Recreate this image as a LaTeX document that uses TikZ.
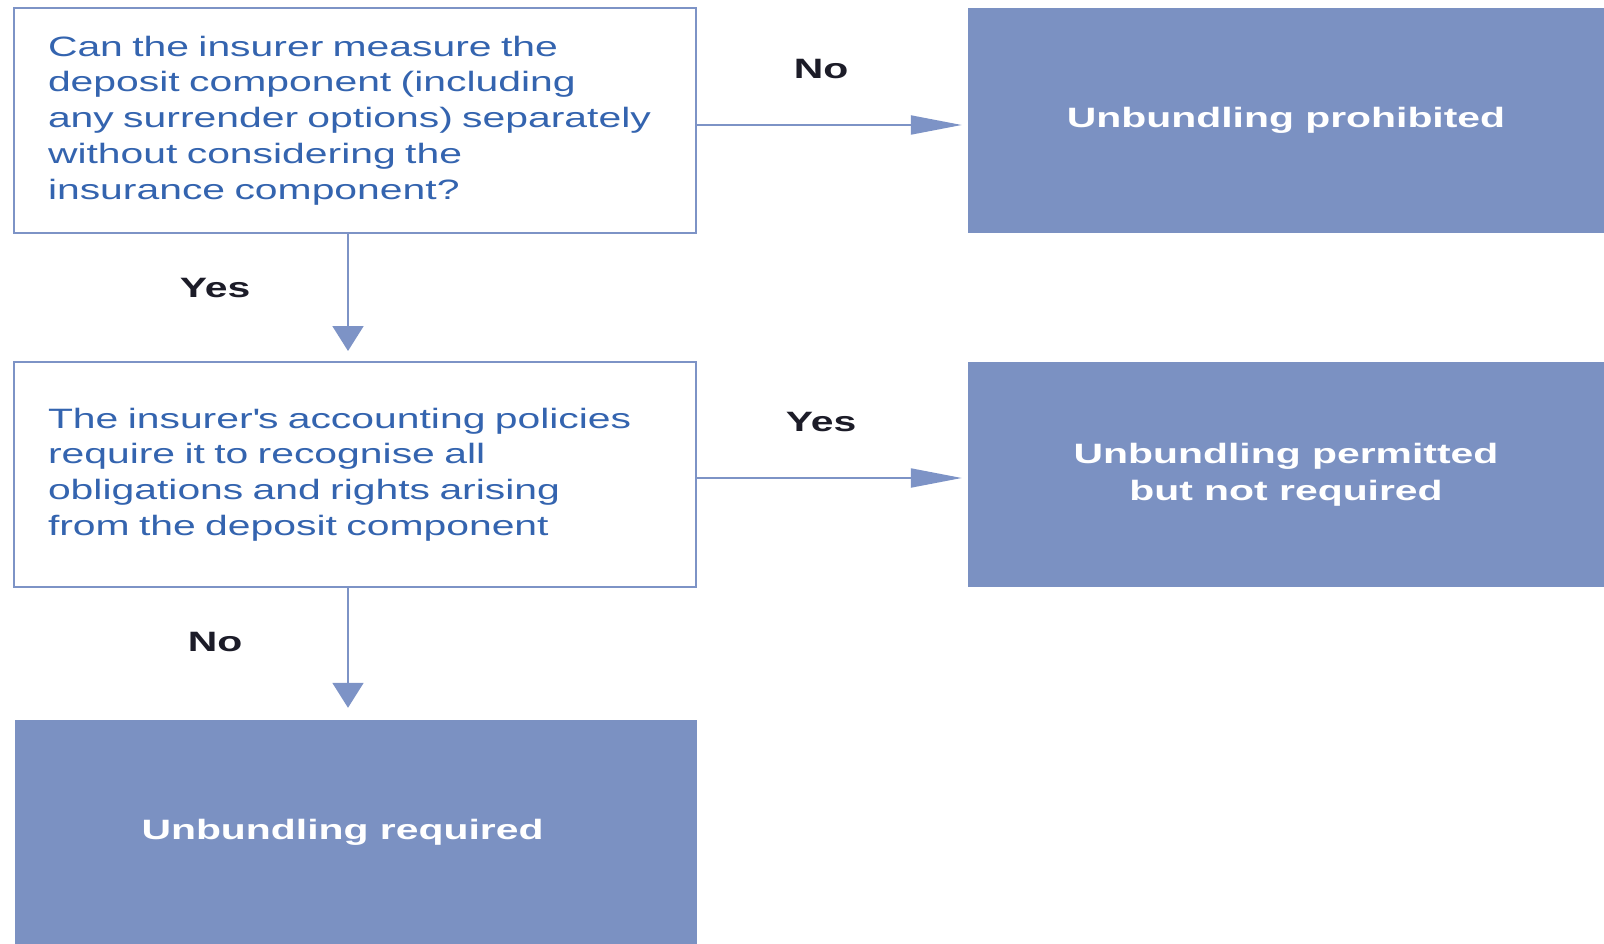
\documentclass[tikz,border=0pt]{standalone}
\usepackage{fontspec}
\setmainfont{Liberation Sans}[FakeStretch=1.46]
\usetikzlibrary{arrows.meta}

\definecolor{edgeblue}{RGB}{125,147,198}
\definecolor{fillblue}{RGB}{123,145,194}
\definecolor{textblue}{RGB}{52,100,175}
\definecolor{labelink}{RGB}{28,28,40}

\tikzset{
  question/.style={draw=edgeblue, line width=2pt, fill=white,
    minimum width=682pt, minimum height=225pt,
    text width=614pt, inner sep=0pt, align=left,
    text=textblue, font=\fontsize{28}{35.8}\selectfont},
  outcome/.style={fill=fillblue, draw=none,
    minimum width=682pt, minimum height=225pt, inner sep=0pt,
    align=center, text=white, font=\fontsize{28}{37}\selectfont\bfseries},
  sideoutcome/.style={outcome, minimum width=646pt},
  answer/.style={text=labelink, font=\fontsize{28}{34}\selectfont\bfseries, inner sep=0pt},
  conn/.style={draw=edgeblue, line width=2pt},
  hhead/.style={-{Triangle[length=51pt,width=19pt]}},
  vhead/.style={-{Triangle[length=25pt,width=31pt]}}
}

\begin{document}
\begin{tikzpicture}[x=1pt, y=-1pt]
  \useasboundingbox (0,0) rectangle (1604,944);

  % decision boxes
  \node[question] (q1) at (355,120.5)
    {Can the insurer measure the\\deposit component (including\\any surrender options) separately\\without considering the\\insurance component?};
  \node[question] (q2) at (355,474.5)
    {The insurer\textquotesingle s accounting policies\\require it to recognise all\\obligations and rights arising\\from the deposit component};

  % outcome boxes (the right-hand ones run past the page edge)
  \node[sideoutcome] (prohib) at (1291,120.5) {\hspace*{-10pt}Unbundling prohibited};
  \node[sideoutcome] (permit) at (1291,474.5) {\hspace*{-10pt}Unbundling permitted\\\hspace*{-10pt}but not required};
  \node[outcome] (requir) at (355.5,832.5) {\hspace*{-26pt}Unbundling required};

  % connectors
  \draw[conn, hhead, shorten >=6pt] ([yshift=-4.5pt]q1.east) -- ([yshift=-4.5pt]prohib.west);
  \draw[conn, hhead, shorten >=6pt] ([yshift=-3.5pt]q2.east) -- ([yshift=-3.5pt]permit.west);
  \draw[conn, vhead, shorten >=10pt] ([xshift=-7pt]q1.south) -- ([xshift=-7pt]q2.north);
  \draw[conn, vhead, shorten >=12pt] ([xshift=-7pt]q2.south) -- ([xshift=-7.5pt]requir.north);

  % answer labels
  \node[answer] (lno1)  at (821,69)  {No};
  \node[answer] (lyes1) at (215,288) {Yes};
  \node[answer] (lyes2) at (821,422) {Yes};
  \node[answer] (lno2)  at (215,642) {No};
\end{tikzpicture}
\end{document}
